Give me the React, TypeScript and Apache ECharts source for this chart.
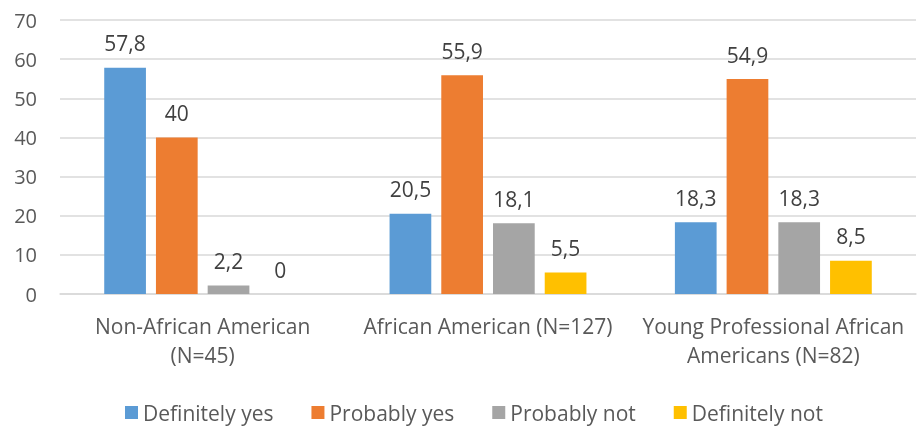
import React, { useEffect, useRef } from "react";
import * as echarts from "echarts";

const categories = [
  "Non-African American\n(N=45)",
  "African American (N=127)",
  "Young Professional African\nAmericans (N=82)",
];
const definitelyYes = [57.8, 20.5, 18.3];
const probablyYes = [40, 55.9, 54.9];
const probablyNot = [2.2, 18.1, 18.3];
const definitelyNot = [0, 5.5, 8.5];
const seriesNames = ["Definitely yes", "Probably yes", "Probably not", "Definitely not"];
const colors = ["#5b9bd5", "#ed7d31", "#a5a5a5", "#ffc000"];

const FONT = "'Open Sans', 'Noto Sans', sans-serif";

export default function App() {
  const ref = useRef<HTMLDivElement>(null);
  useEffect(() => {
    if (!ref.current) return;
    const chart = echarts.init(ref.current, null, { renderer: "svg" });
    const values = [definitelyYes, probablyYes, probablyNot, definitelyNot];
    chart.setOption({
      animation: false,
      color: colors,
      textStyle: { fontFamily: FONT },
      grid: { left: 60, right: 1, top: 20, bottom: 134, containLabel: false },
      legend: {
        top: 397,
        left: 120,
        itemWidth: 13,
        itemHeight: 13,
        itemGap: 38,
        icon: "rect",
        textStyle: { fontSize: 21, color: "#595959", fontFamily: FONT },
        data: seriesNames,
      },
      xAxis: {
        type: "category",
        data: categories,
        axisLine: { lineStyle: { color: "#d9d9d9", width: 1.5 } },
        axisTick: { show: false },
        axisLabel: {
          fontSize: 21,
          color: "#595959",
          lineHeight: 29,
          margin: 17,
          interval: 0,
          fontFamily: FONT,
        },
      },
      yAxis: {
        type: "value",
        min: 0,
        max: 70,
        interval: 10,
        axisLine: { show: false },
        axisTick: { show: false },
        splitLine: { lineStyle: { color: "#d9d9d9", width: 1.5 } },
        axisLabel: { fontSize: 20, color: "#595959", margin: 23, fontFamily: FONT },
      },
      series: seriesNames.map((name, i) => ({
        name,
        type: "bar",
        data: values[i],
        barGap: "24%",
        barCategoryGap: "31%",
        label: {
          show: true,
          position: "top",
          distance: 14,
          fontSize: 21,
          color: "#404040",
          fontFamily: FONT,
          formatter: (p: any) => String(p.value).replace(".", ","),
        },
      })),
    });
    return () => chart.dispose();
  }, []);
  return (
    <div
      ref={ref}
      style={{ position: "fixed", left: 0, top: 0, width: 917, height: 428 }}
    />
  );
}
